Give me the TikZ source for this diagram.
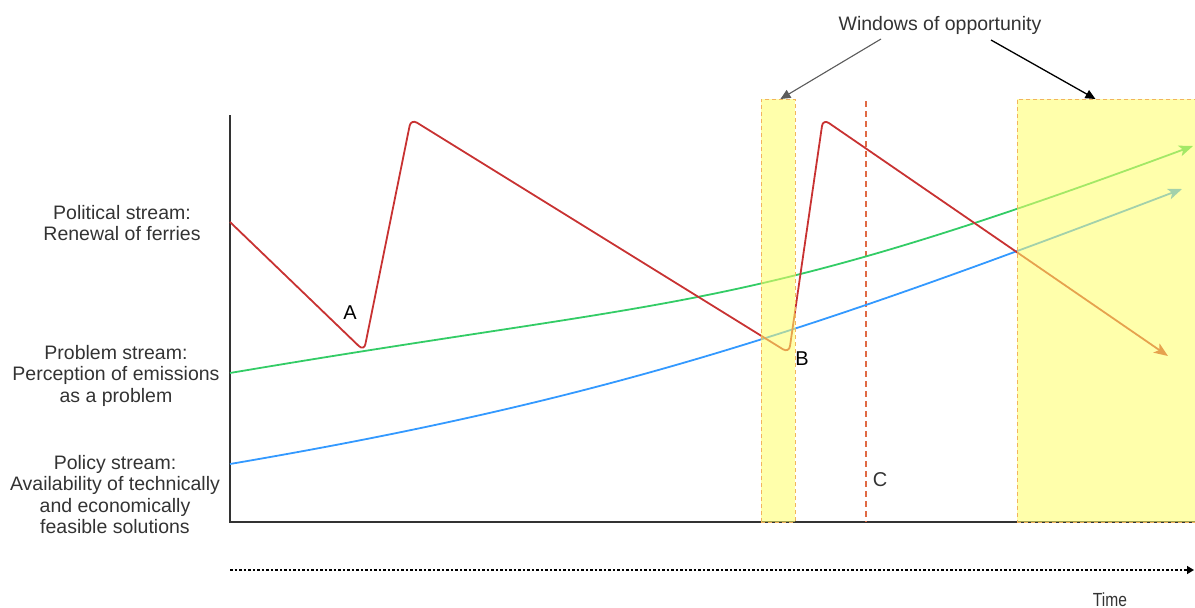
\documentclass[tikz,border=0pt]{standalone}
\usepackage{fontspec}
\setmainfont{Liberation Sans}
\usetikzlibrary{arrows.meta}
\definecolor{txt}{HTML}{333333}
\definecolor{redc}{HTML}{C83232}
\definecolor{greenc}{HTML}{33CC66}
\definecolor{bluec}{HTML}{3399FF}
\definecolor{winfill}{HTML}{FFFF66}
\definecolor{winborder}{HTML}{F2B45C}
\definecolor{cline}{HTML}{E06A45}
\begin{document}
\begin{tikzpicture}[x=1pt,y=-1pt,
  lbl/.style={font=\fontsize{19.5}{21.5}\selectfont, text=txt, align=center, inner sep=0pt},
  axisline/.style={draw=txt, line width=1.6pt},
  curve/.style={line width=1.8pt, line join=round},
  curvetip/.style={-{Stealth[length=14pt,width=11pt,inset=3.5pt]}},
  win/.style={fill=winfill, fill opacity=0.55, draw=winborder, dash pattern=on 4pt off 3pt, line width=0.9pt, inner sep=0pt, anchor=north west},
  pointer/.style={-{Triangle[length=10pt,width=9pt]}}
]
\useasboundingbox (0,0) rectangle (1195,608);

% stream labels
\node[lbl, anchor=north] (pol) at (122,205) {Political stream:\\Renewal of ferries};
\node[lbl, anchor=north] (prob) at (116,345) {Problem stream:\\Perception of emissions\\as a problem};
\node[lbl, anchor=north] (polc) at (115,455) {Policy stream:\\Availability of technically\\and economically\\feasible solutions};

% axes
\coordinate (ytop) at (230,115);
\coordinate (orig) at (230,522);
\coordinate (xend) at (1195,522);
\draw[axisline] (ytop) -- (orig) -- (xend);

% time arrow
\coordinate (t0) at (230,570);
\coordinate (t1) at (1194,570);
\draw[line width=1.6pt, dash pattern=on 2.5pt off 2pt, -{Triangle[length=7pt,width=8pt]}] (t0) -- (t1);
\node[lbl, anchor=base, font=\fontsize{19}{20}\selectfont] (time) at (1110,606) {\scalebox{0.82}[1]{Time}};

% window C line
\coordinate (c0) at (866,101);
\coordinate (c1) at (866,522);
\draw[cline, line width=1.4pt, dash pattern=on 6pt off 4pt] (c0) -- (c1);

% policy stream (blue)
\coordinate (b0) at (230,464);
\coordinate (b1) at (1182,189);
\draw[bluec, curve, curvetip] (b0) .. controls (605,400) and (807,332) .. (b1);
% problem stream (green)
\coordinate (g0) at (230,373);
\coordinate (g1) at (1193,146);
\draw[greenc, curve, curvetip] (g0) .. controls (690,295) and (733,316) .. (g1);
% political stream (red)
\coordinate (r0) at (230,222);
\coordinate (r1) at (1168,356);
\draw[redc, curve, curvetip, rounded corners=7pt] (r0) -- (364,351) -- (411,119) -- (789,353) -- (823,119) -- (r1);

% windows of opportunity
\node[win, minimum width=34pt, minimum height=423pt] (w1) at (761,99) {};
\node[win, minimum width=180pt, minimum height=423pt] (w2) at (1017,99) {};

\node[lbl, anchor=base] (wtxt) at (940,30.5) {Windows of opportunity};
\coordinate (wa) at (881,39);
\coordinate (wb) at (991,40);
\draw[pointer, draw=txt!80, fill=txt!80, line width=1.1pt] (wa) -- ([xshift=2pt]w1.north);
\draw[pointer, draw=black, fill=black, line width=1.3pt] (wb) -- ([xshift=-12pt]w2.north);

% point labels
\node[lbl, anchor=base, text=black, font=\fontsize{20}{22}\selectfont] (la) at (350,319) {A};
\node[lbl, anchor=base, text=black, font=\fontsize{20}{22}\selectfont] (lb) at (802,365) {B};
\node[lbl, anchor=base, font=\fontsize{20}{22}\selectfont] (lc) at (880,486) {C};
\end{tikzpicture}
\end{document}
